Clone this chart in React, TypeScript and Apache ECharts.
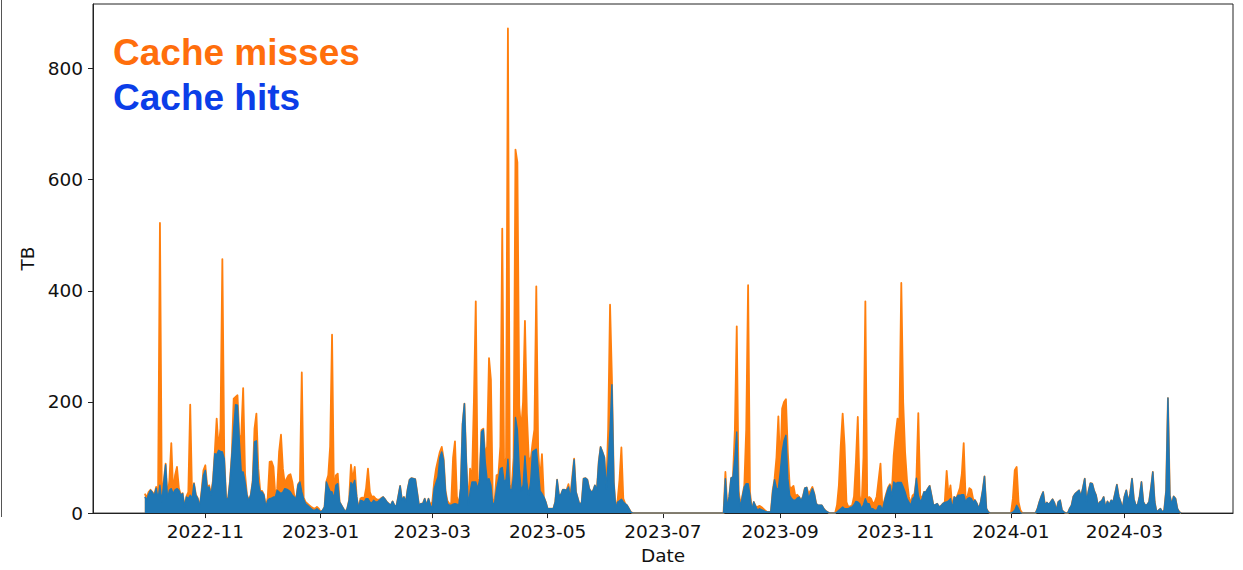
import React, { useEffect, useRef } from "react";
import * as echarts from "echarts";

// ---- data (daily, TB) ----
const startDate = "2022-09-30";
const tickLabels = ["2022-11", "2023-01", "2023-03", "2023-05", "2023-07", "2023-09", "2023-11", "2024-01", "2024-03"];
const yTickValues = [0, 200, 400, 600, 800];
const legendLabels = ["Cache misses", "Cache hits"];

const hitsTB = [
  29,
  // 2022-10
  24, 34, 41, 37, 31, 45, 25, 50, 20, 55, 87, 26, 41, 44, 35, 42, 44, 41, 32, 35, 11, 29, 26, 32, 26, 53, 32, 26, 11, 38, 68,
  // 2022-11
  77, 45, 47, 32, 56, 107, 105, 113, 111, 110, 98, 26, 25, 56, 104, 152, 195, 194, 128, 74, 74, 56, 32, 22, 32, 56, 128, 130, 56, 38,
  // 2022-12
  38, 32, 11, 23, 26, 27, 29, 29, 41, 38, 35, 38, 44, 43, 41, 38, 32, 29, 25, 50, 56, 38, 25, 17, 14, 11, 8, 5, 5, 8, 5,
  // 2023-01
  2, 5, 11, 56, 47, 39, 38, 26, 50, 53, 20, 14, 8, 2, 8, 23, 55, 50, 59, 30, 8, 23, 22, 20, 26, 26, 20, 18, 23, 20, 20,
  // 2023-02
  23, 26, 29, 25, 20, 17, 14, 21, 14, 12, 30, 49, 23, 29, 20, 44, 60, 63, 62, 61, 38, 14, 17, 17, 26, 14, 26, 14,
  // 2023-03
  8, 44, 55, 65, 100, 110, 95, 38, 17, 14, 14, 16, 17, 16, 14, 44, 160, 197, 92, 14, 38, 56, 56, 56, 44, 59, 146, 150, 92, 60, 62,
  // 2023-04
  50, 13, 20, 44, 60, 80, 82, 56, 60, 97, 44, 40, 68, 172, 150, 80, 40, 50, 103, 56, 32, 56, 110, 113, 115, 80, 40, 35, 29, 20,
  // 2023-05
  8, 8, 8, 8, 20, 60, 32, 33, 42, 42, 41, 47, 26, 60, 96, 38, 26, 14, 20, 62, 63, 60, 44, 38, 40, 50, 41, 92, 119, 110, 100,
  // 2023-06
  44, 92, 150, 231, 56, 8, 20, 22, 25, 20, 17, 14, 8, 2, 0, 0, 0, 0, 0, 0, 0, 0, 0, 0, 0, 0, 0, 0, 0, 0,
  // 2023-07
  0, 0, 0, 0, 0, 0, 0, 0, 0, 0, 0, 0, 0, 0, 0, 0, 0, 0, 0, 0, 0, 0, 0, 0, 0, 0, 0, 0, 0, 0, 0,
  // 2023-08
  0, 0, 62, 8, 30, 63, 65, 100, 146, 32, 11, 30, 47, 53, 53, 32, 5, 20, 12, 5, 8, 6, 5, 3, 2, 2, 2, 38, 60, 44, 44,
  // 2023-09
  74, 110, 130, 140, 62, 32, 26, 23, 23, 27, 29, 22, 30, 45, 46, 26, 35, 44, 35, 17, 14, 14, 14, 8, 4, 2, 0, 0, 0, 0,
  // 2023-10
  2, 5, 8, 11, 8, 8, 8, 10, 11, 15, 21, 20, 17, 8, 15, 26, 17, 17, 8, 8, 5, 5, 13, 13, 5, 20, 32, 44, 50, 30, 56,
  // 2023-11
  53, 55, 55, 55, 47, 38, 26, 20, 14, 26, 30, 63, 32, 20, 26, 38, 38, 44, 49, 32, 14, 15, 17, 11, 13, 17, 19, 20, 22, 26,
  // 2023-12
  8, 29, 26, 32, 32, 33, 33, 20, 26, 28, 26, 20, 23, 17, 8, 20, 40, 66, 8, 2, 0, 0, 0, 0, 0, 0, 0, 0, 0, 0, 0,
  // 2024-01
  0, 2, 5, 14, 8, 0, 0, 0, 0, 0, 0, 0, 0, 0, 8, 20, 30, 38, 14, 19, 15, 20, 25, 18, 5, 20, 23, 5, 2, 0, 0,
  // 2024-02
  8, 14, 30, 35, 38, 41, 30, 45, 62, 20, 40, 54, 53, 40, 32, 14, 20, 22, 29, 10, 21, 15, 23, 20, 35, 51, 30, 20, 8,
  // 2024-03
  30, 41, 20, 35, 62, 25, 14, 15, 30, 56, 20, 14, 15, 20, 45, 74, 20, 2, 5, 8, 2, 5, 40, 207, 32, 15, 30, 26, 8, 2, 0,
];

const missesTB = [
  6,
  // 2022-10
  4, 4, 1, 1, 2, 2, 1, 472, 2, 2, 2, 1, 19, 82, 3, 26, 39, 4, 1, 1, 0, 1, 12, 163, 2, 1, 1, 1, 0, 2, 9,
  // 2022-11
  9, 2, 3, 2, 2, 3, 65, 2, 41, 347, 2, 2, 1, 1, 2, 54, 14, 18, 6, 66, 151, 14, 1, 1, 1, 1, 24, 49, 24, 2,
  // 2022-12
  2, 1, 0, 5, 66, 66, 54, 3, 3, 72, 106, 42, 9, 19, 27, 32, 24, 3, 0, 2, 1, 215, 3, 3, 3, 3, 3, 4, 3, 3, 3,
  // 2023-01
  0, 0, 0, 1, 21, 81, 283, 6, 18, 18, 0, 0, 0, 0, 0, 0, 32, 10, 24, 0, 0, 3, 6, 6, 19, 54, 18, 11, 7, 6, 4,
  // 2023-02
  1, 1, 0, 0, 0, 0, 0, 0, 0, 0, 0, 0, 0, 0, 0, 0, 0, 0, 0, 0, 0, 0, 0, 0, 0, 0, 0, 0,
  // 2023-03
  12, 12, 25, 30, 10, 9, 3, 2, 5, 3, 3, 84, 112, 14, 0, 0, 0, 0, 0, 0, 42, 4, 144, 325, 6, 3, 3, 2, 12, 60, 217,
  // 2023-04
  190, 7, 5, 24, 10, 40, 430, 14, 40, 775, 6, 5, 32, 482, 481, 112, 110, 150, 243, 124, 68, 39, 15, 37, 293, 30, 20, 71, 0, 0,
  // 2023-05
  0, 0, 0, 0, 0, 0, 0, 0, 0, 0, 0, 5, 4, 5, 2, 0, 0, 0, 0, 0, 0, 0, 0, 0, 0, 0, 0, 0, 0, 0, 0,
  // 2023-06
  0, 58, 225, 9, 0, 0, 3, 38, 93, 6, 0, 0, 0, 0, 0, 0, 0, 0, 0, 0, 0, 0, 0, 0, 0, 0, 0, 0, 0, 0,
  // 2023-07
  0, 0, 0, 0, 0, 0, 0, 0, 0, 0, 0, 0, 0, 0, 0, 0, 0, 0, 0, 0, 0, 0, 0, 0, 0, 0, 0, 0, 0, 0, 0,
  // 2023-08
  0, 0, 12, 0, 0, 0, 0, 50, 190, 8, 3, 2, 3, 97, 357, 6, 0, 0, 0, 6, 5, 5, 3, 2, 0, 0, 0, 3, 2, 56, 130,
  // 2023-09
  6, 78, 70, 65, 48, 15, 19, 26, 7, 6, 0, 0, 0, 0, 0, 9, 5, 3, 0, 0, 0, 0, 0, 0, 0, 0, 0, 0, 0, 0,
  // 2023-10
  12, 45, 114, 168, 114, 12, 3, 2, 3, 15, 71, 153, 15, 2, 85, 355, 3, 12, 18, 9, 15, 25, 47, 76, 3, 2, 3, 2, 2, 8, 48,
  // 2023-11
  87, 115, 110, 359, 153, 72, 34, 10, 3, 6, 5, 0, 148, 12, 0, 0, 0, 0, 0, 0, 0, 0, 0, 0, 0, 0, 1, 56, 8, 24,
  // 2023-12
  2, 0, 0, 3, 13, 37, 93, 6, 4, 17, 16, 5, 0, 0, 0, 0, 0, 0, 0, 0, 0, 0, 0, 0, 0, 0, 0, 0, 0, 0, 0,
  // 2024-01
  0, 24, 72, 69, 12, 5, 0, 0, 0, 0, 0, 0, 0, 0, 0, 0, 0, 0, 0, 0, 0, 0, 0, 0, 0, 0, 0, 0, 0, 0, 0,
  // 2024-02
  0, 0, 0, 0, 0, 0, 0, 0, 0, 0, 0, 0, 0, 0, 0, 0, 0, 0, 0, 0, 0, 0, 0, 0, 0, 0, 0, 0, 0,
  // 2024-03
  0, 0, 0, 0, 0, 0, 0, 0, 0, 0, 0, 0, 0, 0, 0, 0, 0, 0, 0, 0, 0, 0, 0, 0, 0, 0, 0, 0, 0, 0, 0,
];

const DAY = 86400000;
function parseDay(s: string): number {
  const [y, m, d] = s.split("-").map(Number);
  return Date.UTC(y, m - 1, d || 1);
}
function fmtMonth(v: number): string {
  const d = new Date(v);
  return `${d.getUTCFullYear()}-${String(d.getUTCMonth() + 1).padStart(2, "0")}`;
}

const FONT = "'DejaVu Sans', sans-serif";

export default function App() {
  const ref = useRef<HTMLDivElement>(null);
  useEffect(() => {
    const chart = echarts.init(ref.current!, null, { renderer: "svg" });
    const t0 = parseDay(startDate);
    const n = Math.min(hitsTB.length, missesTB.length);
    const dates = hitsTB.slice(0, n).map((_, i) => t0 + i * DAY);
    const totals = dates.map((_, i) => hitsTB[i] + missesTB[i]);
    const first = dates[0];
    const last = dates[n - 1];
    const pad = (last - first) * 0.05;
    const tickTimes = tickLabels.map((l) => parseDay(l));
    const maxTotal = Math.max(...totals);

    const option: any = {
      animation: false,
      backgroundColor: "#ffffff",
      grid: {
        left: 93,
        right: 10,
        top: 4,
        bottom: 56,
        show: true,
        borderColor: "#222",
        borderWidth: 1,
        backgroundColor: "transparent",
      },
      xAxis: {
        type: "value",
        min: first - pad,
        max: last + pad,
        scale: true,
        axisLine: { show: true, onZero: false, lineStyle: { color: "#222", width: 1 } },
        axisTick: { show: true, customValues: tickTimes, length: 5, lineStyle: { color: "#222", width: 1 } },
        axisLabel: {
          customValues: tickTimes,
          formatter: (v: number) => fmtMonth(v),
          fontSize: 18.5,
          fontFamily: FONT,
          color: "#111",
          margin: 9,
        },
        splitLine: { show: false },
        name: "Date",
        nameLocation: "middle",
        nameGap: 31,
        nameTextStyle: { fontSize: 18.5, fontFamily: FONT, color: "#111" },
      },
      yAxis: {
        type: "value",
        min: 0,
        max: Math.round(maxTotal * 1.05),
        axisLine: { show: true, lineStyle: { color: "#222", width: 1 } },
        axisTick: { show: true, customValues: yTickValues, length: 5, lineStyle: { color: "#222", width: 1 } },
        axisLabel: {
          customValues: yTickValues,
          fontSize: 18.5,
          fontFamily: FONT,
          color: "#111",
          margin: 10,
        },
        splitLine: { show: false },
        name: "TB",
        nameLocation: "middle",
        nameRotate: 90,
        nameGap: 51,
        nameTextStyle: { fontSize: 18.5, fontFamily: FONT, color: "#111" },
      },
      series: [
        {
          name: legendLabels[0],
          type: "line",
          data: dates.map((t, i) => [t, totals[i]]),
          showSymbol: false,
          symbol: "none",
          lineStyle: { color: "#ff7f0e", width: 1.8, join: "round" },
          itemStyle: { color: "#ff7f0e" },
          areaStyle: { color: "#ff7f0e", opacity: 1 },
          z: 2,
        },
        {
          name: legendLabels[1],
          type: "line",
          data: dates.map((t, i) => [t, hitsTB[i]]),
          showSymbol: false,
          symbol: "none",
          lineStyle: { color: "#1f77b4", width: 1.4, join: "round" },
          itemStyle: { color: "#1f77b4" },
          areaStyle: { color: "#1f77b4", opacity: 1 },
          z: 3,
        },
      ],
      graphic: [
        {
          type: "line",
          shape: { x1: 1.5, y1: 0, x2: 1.5, y2: 517 },
          style: { stroke: "#555", lineWidth: 1 },
        },
        {
          type: "text",
          x: 113,
          y: 52,
          style: {
            text: legendLabels[0],
            fill: "#ff6e0c",
            fontSize: 37,
            fontWeight: "bold",
            fontFamily: "'Liberation Sans', Arial, sans-serif",
            verticalAlign: "middle",
          },
        },
        {
          type: "text",
          x: 113,
          y: 97,
          style: {
            text: legendLabels[1],
            fill: "#0b3ee8",
            fontSize: 37,
            fontWeight: "bold",
            fontFamily: "'Liberation Sans', Arial, sans-serif",
            verticalAlign: "middle",
          },
        },
      ],
    };
    chart.setOption(option);
    return () => chart.dispose();
  }, []);
  return (
    <div
      ref={ref}
      style={{ position: "fixed", left: 0, top: 0, width: 1243, height: 570, background: "#fff" }}
    />
  );
}
